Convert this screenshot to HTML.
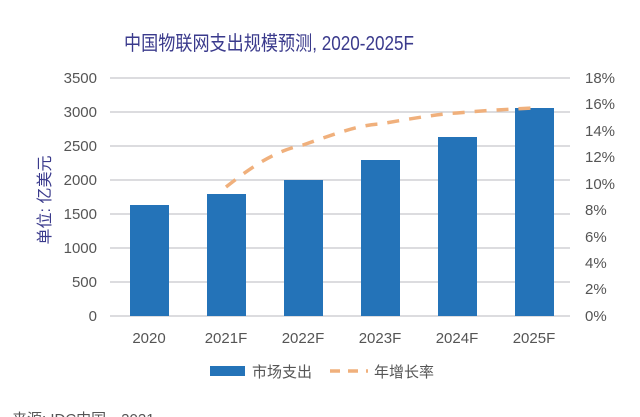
<!DOCTYPE html>
<html><head><meta charset="utf-8"><style>
html,body{margin:0;padding:0;background:#fff;}
svg{display:block;font-family:"Liberation Sans","Noto Sans CJK SC",sans-serif;}
</style></head><body>
<svg width="640" height="417" viewBox="0 0 640 417" xmlns="http://www.w3.org/2000/svg">
<rect width="640" height="417" fill="#fff"/>
<text x="269" y="50" text-anchor="middle" font-size="20" fill="#3a3a8c" textLength="290" lengthAdjust="spacingAndGlyphs">中国物联网支出规模预测, 2020-2025F</text>
<g stroke="#c8c8cc" stroke-width="1.2">
<line x1="110" x2="570" y1="78" y2="78"/>
<line x1="110" x2="570" y1="112" y2="112"/>
<line x1="110" x2="570" y1="146" y2="146"/>
<line x1="110" x2="570" y1="180" y2="180"/>
<line x1="110" x2="570" y1="214" y2="214"/>
<line x1="110" x2="570" y1="248" y2="248"/>
<line x1="110" x2="570" y1="282" y2="282"/>
<line x1="110" x2="570" y1="316" y2="316"/>
</g>
<g font-size="15" fill="#555" text-anchor="end">
<text x="97" y="83">3500</text><text x="97" y="117">3000</text><text x="97" y="151">2500</text><text x="97" y="185">2000</text><text x="97" y="219">1500</text><text x="97" y="253">1000</text><text x="97" y="287">500</text><text x="97" y="321">0</text>
</g>
<g font-size="15" fill="#555" text-anchor="start">
<text x="585" y="83">18%</text><text x="585" y="109">16%</text><text x="585" y="136">14%</text><text x="585" y="162">12%</text><text x="585" y="189">10%</text><text x="585" y="215">8%</text><text x="585" y="242">6%</text><text x="585" y="268">4%</text><text x="585" y="294">2%</text><text x="585" y="321">0%</text>
</g>
<text transform="translate(50,200) rotate(-90)" text-anchor="middle" font-size="16" fill="#3a3a8c">单位: 亿美元</text>
<g fill="#2473b8">
<rect x="130" y="205" width="39" height="111"/>
<rect x="207" y="194" width="39" height="122"/>
<rect x="284" y="180" width="39" height="136"/>
<rect x="361" y="160" width="39" height="156"/>
<rect x="438" y="137" width="39" height="179"/>
<rect x="515" y="108" width="39" height="208"/>
</g>
<path d="M226 187 C260 160 280 150 303 145 C340 132 360 125 380 124 C420 117 440 114 457 113 C490 110 515 109 534 108" fill="none" stroke="#f0b07c" stroke-width="3.5" stroke-dasharray="12,10"/>
<g font-size="15" fill="#555" text-anchor="middle">
<text x="149" y="343">2020</text><text x="226" y="343">2021F</text><text x="303" y="343">2022F</text><text x="380" y="343">2023F</text><text x="457" y="343">2024F</text><text x="534" y="343">2025F</text>
</g>
<rect x="210" y="366" width="35" height="10" fill="#2473b8"/>
<text x="252" y="377" font-size="15" fill="#555">市场支出</text>
<line x1="330" x2="368" y1="371" y2="371" stroke="#f0b07c" stroke-width="3.5" stroke-dasharray="10,8"/>
<text x="374" y="377" font-size="15" fill="#555">年增长率</text>
<text x="12" y="424" font-size="15" fill="#555">来源: IDC中国，2021</text>
</svg>
</body></html>
